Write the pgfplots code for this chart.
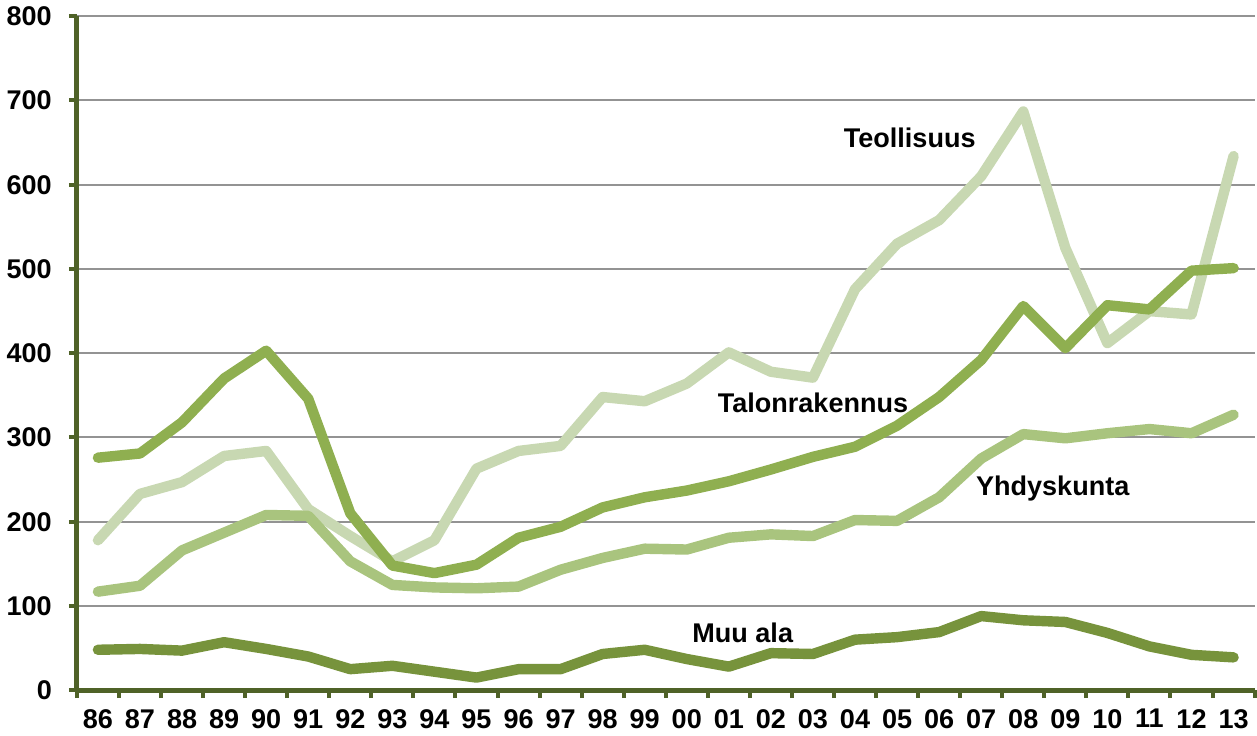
\documentclass[border=0pt]{standalone}
\usepackage{pgfplots}
\pgfplotsset{compat=1.18}
\usepackage{fontspec}
\setmainfont{Liberation Sans}
\definecolor{axisgreen}{HTML}{4F6228}
\definecolor{teol}{HTML}{C8D8B2}
\definecolor{talo}{HTML}{8FAF50}
\definecolor{yhdy}{HTML}{A9C47E}
\definecolor{muu}{HTML}{77933C}
\begin{document}
\begin{tikzpicture}
\begin{axis}[
  scale only axis,
  width=588pt, height=336.5pt,
  xmin=-0.5, xmax=27.5,
  ymin=0, ymax=800,
  axis x line=bottom, axis y line=left,
  axis line style={axisgreen, line width=2.4pt, -},
  xtick={0,...,27},
  xticklabels={86,87,88,89,90,91,92,93,94,95,96,97,98,99,00,01,02,03,04,05,06,07,08,09,10,11,12,13},
  major x tick style={draw=none},
  minor xtick={-0.5,0.5,...,27.5},
  minor tick length=4pt,
  minor x tick style={axisgreen, line width=2pt},
  ytick={0,100,...,800},
  major tick length=4pt,
  y tick style={axisgreen, line width=2pt},
  tick align=outside,
  ymajorgrids,
  grid style={gray!85, line width=1pt},
  tick label style={font=\fontsize{13.5}{15}\selectfont\bfseries},
  /pgf/number format/assume math mode=true,
  xticklabel style={yshift=-2pt},
  yticklabel style={xshift=-5pt},
  clip=false,
  every axis plot/.append style={line width=5.2pt, line cap=round, line join=round},
]
\addplot[teol] coordinates {
(0,178)(1,233)(2,247)(3,278)(4,284)(5,215)(6,183)(7,153)(8,178)(9,263)
(10,284)(11,290)(12,348)(13,343)(14,364)(15,401)(16,378)(17,371)(18,476)(19,530)
(20,558)(21,610)(22,687)(23,525)(24,412)(25,450)(26,446)(27,634)};
\addplot[talo] coordinates {
(0,276)(1,281)(2,318)(3,370)(4,403)(5,346)(6,210)(7,148)(8,139)(9,149)
(10,181)(11,194)(12,217)(13,229)(14,237)(15,248)(16,262)(17,277)(18,289)(19,314)
(20,348)(21,392)(22,456)(23,406)(24,457)(25,452)(26,498)(27,501)};
\addplot[yhdy] coordinates {
(0,117)(1,124)(2,166)(3,187)(4,208)(5,207)(6,153)(7,125)(8,122)(9,121)
(10,123)(11,143)(12,157)(13,168)(14,167)(15,181)(16,185)(17,183)(18,202)(19,201)
(20,229)(21,275)(22,304)(23,299)(24,305)(25,310)(26,305)(27,327)};
\addplot[muu] coordinates {
(0,48)(1,49)(2,47)(3,57)(4,49)(5,40)(6,25)(7,29)(8,22)(9,15)
(10,25)(11,25)(12,43)(13,48)(14,37)(15,28)(16,44)(17,43)(18,60)(19,63)
(20,69)(21,88)(22,83)(23,81)(24,68)(25,52)(26,42)(27,39)};
\node[font=\fontsize{13.5}{15}\selectfont\bfseries] at (axis cs:19.3,656) {Teollisuus};
\node[font=\fontsize{13.5}{15}\selectfont\bfseries] at (axis cs:17.0,341) {Talonrakennus};
\node[font=\fontsize{13.5}{15}\selectfont\bfseries] at (axis cs:22.7,240) {Yhdyskunta};
\node[font=\fontsize{13.5}{15}\selectfont\bfseries] at (axis cs:15.33,68) {Muu ala};
\end{axis}
\end{tikzpicture}
\end{document}
